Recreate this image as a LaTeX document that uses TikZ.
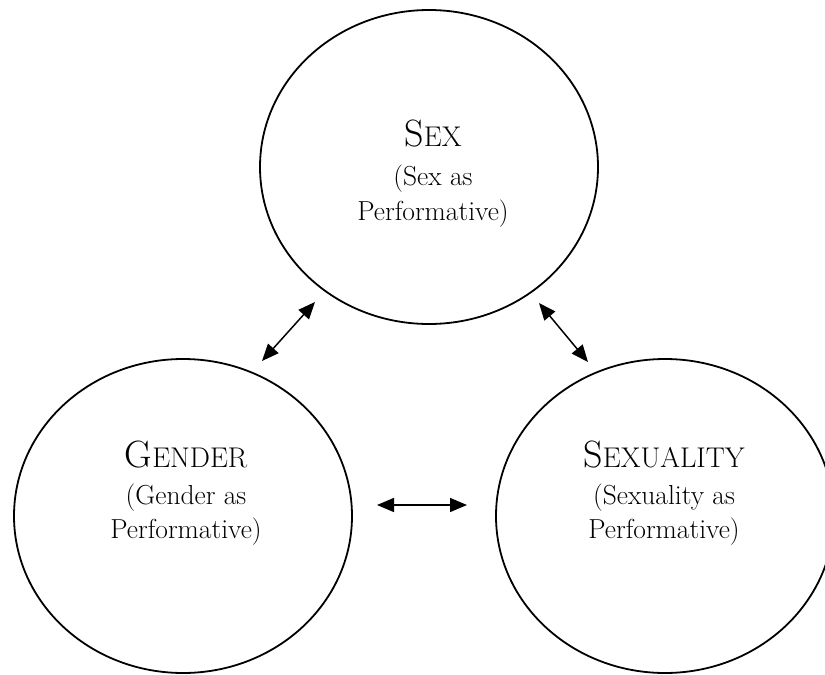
\documentclass[tikz,border=0pt]{standalone}
\usepackage{fontspec}
\usetikzlibrary{shapes.geometric,arrows.meta}
\begin{document}
\begin{tikzpicture}[x=1pt,y=-1pt,
  blob/.style={draw, ellipse, line width=1.8pt, inner sep=0pt, minimum width=338pt, minimum height=314pt},
  ttl/.style={anchor=base, inner sep=0pt},
  sub/.style={anchor=base, inner sep=0pt, font=\fontsize{27.5}{30}\selectfont},
  link/.style={line width=1.5pt, {Triangle[length=17pt,width=14pt]}-{Triangle[length=17pt,width=14pt]}}
]
\newcommand{\bigc}[1]{{\fontsize{38}{40}\selectfont #1}}
\newcommand{\smc}[1]{{\fontsize{28.5}{30}\selectfont #1}}
\useasboundingbox (0,0) rectangle (825,675);
\node[blob] (sex) at (429,167) {};
\node[blob] (gender) at (183,516) {};
\node[blob] (sexuality) at (665,516) {};
% texts
\node[ttl] (t1) at (433,146) {\bigc{S}\smc{EX}};
\node[sub] (t1a) at (433,185) {(Sex as};
\node[sub] (t1b) at (433,220) {Performative)};
\node[ttl] (t2) at (186,467) {\bigc{G}\smc{ENDER}};
\node[sub] (t2a) at (186,504) {(Gender as};
\node[sub] (t2b) at (186,538) {Performative)};
\node[ttl] (t3) at (664,467) {\bigc{S}\smc{EXUALITY}};
\node[sub] (t3a) at (664,504) {(Sexuality as};
\node[sub] (t3b) at (664,538) {Performative)};
% arrows
\coordinate (a1) at (262,361);
\coordinate (a2) at (315,302);
\coordinate (b1) at (539,303);
\coordinate (b2) at (588,362);
\coordinate (c1) at (377,505);
\coordinate (c2) at (467,505);
\draw[link] (a1) -- (a2);
\draw[link] (b1) -- (b2);
\draw[link] (c1) -- (c2);
\end{tikzpicture}
\end{document}
